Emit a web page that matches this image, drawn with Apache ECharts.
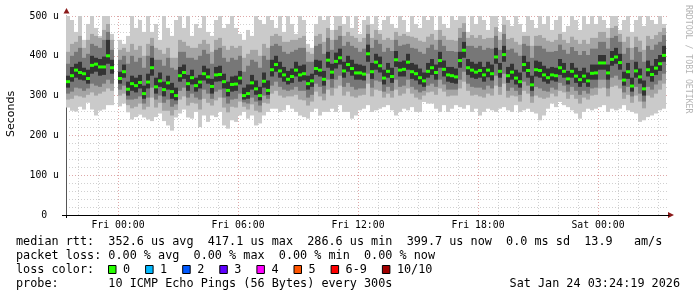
<!DOCTYPE html>
<html><head><meta charset="utf-8">
<script src="https://cdn.jsdelivr.net/npm/echarts@6/dist/echarts.min.js"></script>
<style>html,body{margin:0;padding:0;background:#fff}#c{width:697px;height:297px}</style>
</head><body><div id="c"></div>
<script>
// time: hours relative to Fri 00:00; each sample column is 12 minutes wide
const START_H = -2.6, STEP_H = 0.2;
const median = [
335,350,364,358,355,343,376,379,372,372,
400,370,null,343,360,316,330,325,333,305,
334,370,322,337,315,332,310,300,350,358,
330,345,325,334,355,347,323,352,353,335,
313,328,329,344,300,305,332,317,300,336,
313,365,378,362,352,341,348,364,352,355,
330,337,368,364,341,389,359,386,395,362,
378,368,357,357,354,405,360,384,375,344,
361,348,390,364,366,384,360,355,345,337,
361,370,358,388,366,352,350,347,388,414,
370,364,359,363,352,364,355,397,361,403,
350,359,344,335,378,363,327,365,363,352,
345,352,350,370,361,342,361,349,340,349,
337,356,357,382,382,357,391,397,383,339,
360,324,362,347,317,365,353,369,380,401];
const pMin = [
270,262,260,272,265,282,265,250,262,265,
276,276,null,273,280,258,240,246,252,245,
240,236,246,255,236,225,212,245,255,265,
245,242,259,221,250,234,250,246,259,225,
217,238,234,250,259,242,250,225,230,250,
259,267,267,259,263,276,267,259,250,246,
242,259,267,250,259,259,267,259,276,259,
259,242,250,263,267,276,259,263,267,271,
276,263,250,259,267,263,271,259,259,284,
280,280,267,259,276,259,267,276,271,267,
276,259,267,250,259,267,263,259,267,271,
263,259,276,259,263,267,259,255,238,250,
267,280,271,284,276,271,263,255,242,259,
267,263,267,271,276,259,267,263,267,276,
263,259,255,234,238,246,250,255,263,267];
const pLo2 = [
290,292,300,298,295,302,308,300,305,310,
318,312,null,300,305,276,268,272,280,265,
272,295,270,282,262,262,250,264,290,298,
275,282,280,265,292,282,275,288,295,270,
258,272,270,285,272,265,278,262,258,282,
280,305,312,300,295,298,298,302,290,288,
275,285,310,298,288,315,300,318,325,300,
310,298,295,300,302,330,298,315,312,295,
305,295,315,300,305,318,305,295,290,300,
308,310,302,318,310,298,300,300,318,335,
312,300,302,298,295,305,300,325,302,330,
295,300,298,285,312,305,282,300,295,292,
295,305,298,312,308,292,302,292,280,295,
290,300,302,318,320,298,322,325,318,292,
302,282,300,285,268,300,295,305,315,330];
const pLo3 = [
305,310,320,318,312,318,330,325,322,330,
340,330,null,315,325,290,290,292,298,280,
295,320,290,300,282,290,272,278,312,320,
295,305,295,290,315,305,292,310,315,295,
280,290,292,305,283,280,295,285,275,300,
292,325,335,322,315,312,315,322,312,312,
295,302,330,322,305,340,320,340,350,322,
332,322,315,318,318,355,320,338,335,310,
322,312,340,322,325,340,322,315,308,312,
325,330,322,340,328,315,315,315,340,360,
330,322,320,320,315,325,318,350,322,355,
312,320,312,302,335,325,298,322,318,312,
310,320,315,332,325,310,322,312,302,312,
305,318,320,340,340,318,345,350,340,308,
322,298,322,305,285,322,315,328,338,355];
const pLo4 = [
320,335,345,340,338,330,355,360,350,352,
380,355,null,330,345,300,312,308,318,292,
318,350,305,322,298,315,292,288,335,342,
312,328,310,318,338,330,305,335,336,318,
298,310,312,328,290,292,315,302,288,320,
302,348,360,345,335,328,332,348,335,338,
315,322,352,348,325,370,342,368,378,345,
360,350,340,340,338,385,342,365,358,328,
345,332,372,348,348,365,342,338,328,322,
345,352,340,370,348,335,332,330,370,395,
352,345,342,345,335,346,338,380,345,385,
332,340,328,320,360,345,312,348,345,335,
330,338,335,352,345,328,345,332,322,332,
322,340,340,365,365,340,375,380,365,325,
342,310,345,330,300,348,335,352,362,385];
const pHi4 = [
350,372,380,385,370,365,400,395,392,398,
440,390,null,360,378,335,350,345,352,325,
355,395,345,358,335,350,332,320,372,378,
352,365,345,352,375,368,342,372,375,355,
335,348,350,362,320,328,352,338,322,358,
338,390,400,385,372,362,368,385,375,378,
350,355,390,388,362,410,380,408,418,385,
400,390,380,378,375,428,382,405,398,365,
382,370,412,385,388,405,382,378,368,358,
382,392,378,410,388,372,372,368,410,435,
392,385,380,385,372,385,378,420,382,425,
372,380,365,358,400,385,350,388,385,375,
368,372,370,392,382,362,382,370,362,370,
358,378,378,402,402,378,412,420,405,360,
382,345,385,368,338,388,375,392,402,425];
const pHi3 = [
380,400,410,420,395,405,430,425,420,440,
460,415,null,390,400,380,400,385,395,370,
400,425,390,390,375,395,370,365,410,410,
395,395,390,400,415,405,380,415,420,395,
385,395,390,400,360,375,390,385,370,400,
390,425,430,425,410,405,410,415,420,420,
385,385,425,430,405,445,415,440,450,425,
435,425,420,410,418,455,420,440,430,410,
420,412,440,425,428,430,420,418,410,405,
420,428,415,440,425,412,412,410,445,460,
425,425,420,425,415,420,418,450,415,455,
415,418,408,400,430,425,395,425,425,418,
410,410,412,428,415,405,422,412,402,412,
402,418,418,435,435,418,445,450,435,405,
420,390,422,410,385,425,415,428,435,452];
const pHi2 = [
410,430,435,450,420,440,455,450,445,465,
480,440,null,415,420,410,430,415,425,400,
430,445,420,415,405,420,395,395,440,435,
425,420,420,430,440,430,410,440,445,425,
415,425,420,425,395,405,415,415,400,430,
420,450,455,450,435,435,440,440,445,450,
410,405,450,455,435,470,440,465,475,450,
460,450,445,435,445,478,445,465,455,440,
445,440,460,450,455,450,448,445,438,435,
448,455,440,465,450,440,440,438,470,482,
445,452,445,452,442,445,445,472,440,478,
442,445,435,428,450,450,425,450,452,445,
438,435,440,455,440,432,448,440,430,440,
430,445,445,460,460,445,470,475,455,435,
448,420,448,438,415,450,442,452,460,470];
const pMax = [
500,490,460,500,440,480,500,470,450,500,
500,455,null,440,430,450,500,470,490,460,
500,460,480,440,500,470,450,490,500,470,
500,450,480,470,500,460,450,490,500,470,
480,500,470,455,440,465,450,500,490,480,
500,490,470,500,460,500,480,455,500,490,
430,420,480,500,490,500,465,500,500,480,
500,470,500,455,490,500,480,500,465,490,
500,480,470,500,490,460,500,480,470,500,
490,500,465,500,480,470,500,490,500,500,
460,500,480,500,490,465,500,500,460,500,
490,475,500,480,460,500,490,470,500,480,
500,465,490,500,460,475,500,490,465,500,
480,500,480,500,490,470,500,500,465,490,
500,460,490,500,475,500,490,480,500,480];

const xTickValues = [0, 6, 12, 18, 24];
const xTickLabels = ['Fri 00:00', 'Fri 06:00', 'Fri 12:00', 'Fri 18:00', 'Sat 00:00'];
const majorHours = [0, 6, 12, 18, 24];
const minorHours = [-2,-1,1,2,3,4,5,7,8,9,10,11,13,14,15,16,17,19,20,21,22,23,25,26,27];

const legendLines = [
  'median rtt:  352.6 us avg  417.1 us max  286.6 us min  399.7 us now  0.0 ms sd  13.9   am/s',
  'packet loss: 0.00 % avg  0.00 % max  0.00 % min  0.00 % now',
  'loss color:',
  'probe:       10 ICMP Echo Pings (56 Bytes) every 300s'
];
const stampText = 'Sat Jan 24 03:24:19 2026';
const lossLabels = ['0', '1', '2', '3', '4', '5', '6-9', '10/10'];
const lossColors = ['#26ff00', '#00b8ff', '#0059ff', '#5e00ff', '#ff00ff', '#ff5500', '#ff0000', '#a10000'];

const smokeData = [];
median.forEach((m, i) => {
  if (m === null) return;
  smokeData.push([START_H + STEP_H * i, pMin[i], pLo2[i], pLo3[i], pLo4[i], pHi4[i], pHi3[i], pHi2[i], pMax[i], m]);
});

const bandDefs = [[1, 8, '#cacaca'], [2, 7, '#a4a4a4'], [3, 6, '#777777'], [4, 5, '#333333']];
function renderSmoke(params, api) {
  const x0 = api.value(0), x1 = x0 + STEP_H;
  const children = [];
  bandDefs.forEach(([lo, hi, c]) => {
    const a = api.coord([x0, api.value(hi)]);
    const b = api.coord([x1, api.value(lo)]);
    children.push({type: 'rect', shape: {x: a[0], y: a[1], width: b[0] - a[0], height: b[1] - a[1]}, style: {fill: c}});
  });
  const m = api.value(9);
  const a = api.coord([x0, m]), b = api.coord([x1, m]);
  children.push({type: 'rect', shape: {x: a[0], y: a[1] - 1.5, width: b[0] - a[0], height: 3}, style: {fill: '#26ff00'}});
  return {type: 'group', children};
}
function renderVGrid(params, api) {
  const h = api.value(0), major = api.value(1);
  const a = api.coord([h, 0]), b = api.coord([h, 500]);
  const x = Math.round(a[0]) + 0.5;
  return {type: 'line', shape: {x1: x, y1: a[1], x2: x, y2: b[1]},
    style: {stroke: major ? 'rgba(200,110,110,0.6)' : 'rgba(150,150,150,0.45)', lineWidth: 1, lineDash: [1, 2]}};
}
const vGridData = minorHours.map(h => [h, 0]).concat(majorHours.map(h => [h, 1]));

const MONO = '"DejaVu Sans Mono", monospace';
const CW = 7.1;
const graphics = [];
legendLines.forEach((t, k) => {
  graphics.push({type: 'text', x: 16, y: 241.5 + 14 * k, style: {text: t, font: '11.8px ' + MONO, fill: '#000', verticalAlign: 'middle'}});
});
graphics.push({type: 'text', x: 680, y: 283.5, style: {text: stampText, font: '11.8px ' + MONO, fill: '#000', align: 'right', verticalAlign: 'middle'}});
let cx = 108.5;
lossLabels.forEach((lab, k) => {
  graphics.push({type: 'rect', shape: {x: cx, y: 265.5, width: 7.5, height: 8}, style: {fill: lossColors[k], stroke: '#000', lineWidth: 1}});
  graphics.push({type: 'text', x: cx + 14.5, y: 269.5, style: {text: lab, font: '11.8px ' + MONO, fill: '#000', verticalAlign: 'middle'}});
  cx += 14.5 + lab.length * CW + 15.5;
});
graphics.push({type: 'text', x: 11, y: 114, rotation: Math.PI / 2, style: {text: 'Seconds', font: '11px "DejaVu Sans"', fill: '#000', align: 'center', verticalAlign: 'middle'}});
graphics.push({type: 'text', x: 688, y: 5, rotation: -Math.PI / 2, style: {text: 'RRDTOOL / TOBI OETIKER', font: '8.2px ' + MONO, fill: '#b4b4b4', align: 'left', verticalAlign: 'middle'}});
graphics.push({type: 'polygon', shape: {points: [[63.5, 13.5], [69.5, 13.5], [66.5, 8]]}, style: {fill: '#8b1a1a'}});
graphics.push({type: 'polygon', shape: {points: [[668, 212], [668, 218], [674, 215]]}, style: {fill: '#8b1a1a'}});
graphics.push({type: 'line', shape: {x1: 62, y1: 215.5, x2: 668, y2: 215.5}, style: {stroke: '#000', lineWidth: 1}});
graphics.push({type: 'line', shape: {x1: 66.5, y1: 215, x2: 66.5, y2: 218}, style: {stroke: '#000', lineWidth: 1}});

const chart = echarts.init(document.getElementById('c'), null, {renderer: 'canvas'});
chart.setOption({
  animation: false,
  backgroundColor: '#fff',
  grid: {left: 66, top: 16, width: 603, height: 199},
  xAxis: {
    type: 'value', min: -2.6, max: 27.55,
    axisLine: {show: true, onZero: false, lineStyle: {color: '#000'}},
    axisTick: {show: false},
    splitLine: {show: false},
    axisLabel: {customValues: xTickValues, formatter: v => { const k = xTickValues.indexOf(v); return k >= 0 ? xTickLabels[k] : ''; },
      fontFamily: 'DejaVu Sans Mono', fontSize: 9.8, color: '#000', margin: 5}
  },
  yAxis: {
    type: 'value', min: 0, max: 500, interval: 100,
    axisLine: {show: true, onZero: false, lineStyle: {color: '#555'}},
    axisTick: {show: false},
    splitLine: {show: true, lineStyle: {color: 'rgba(200,110,110,0.6)', type: [1, 2]}},
    minorTick: {show: false, splitNumber: 5},
    minorSplitLine: {show: true, lineStyle: {color: 'rgba(150,150,150,0.45)', type: [1, 2]}},
    axisLabel: {formatter: v => v === 0 ? '0  ' : v + ' u', fontFamily: 'DejaVu Sans Mono', fontSize: 9.8, color: '#000', margin: 7}
  },
  series: [
    {type: 'custom', name: 'vgrid', z: 1, silent: true, renderItem: renderVGrid, data: vGridData, encode: {x: 0}},
    {type: 'custom', name: 'smoke', z: 2, clip: true, renderItem: renderSmoke, data: smokeData, encode: {x: 0, y: [1, 8]}}
  ],
  graphic: graphics
});
</script></body></html>
